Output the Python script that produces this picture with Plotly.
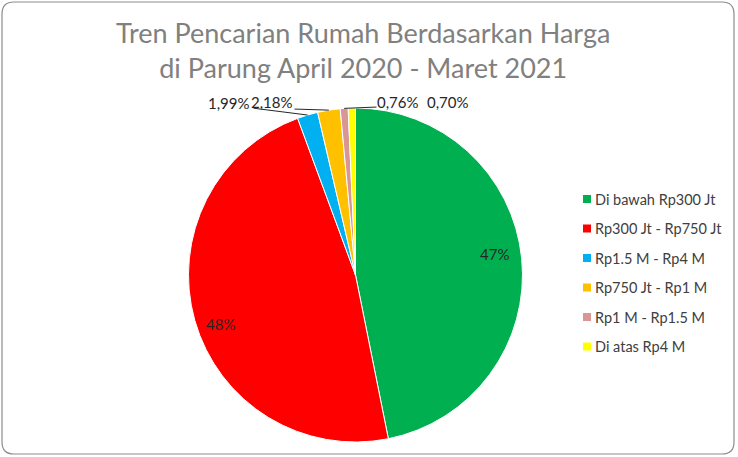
import math
import plotly.graph_objects as go

categories = ["Di bawah Rp300 Jt", "Rp300 Jt - Rp750 Jt", "Rp1.5 M - Rp4 M",
              "Rp750 Jt - Rp1 M", "Rp1 M - Rp1.5 M", "Di atas Rp4 M"]
values = [46.85, 47.52, 1.99, 2.18, 0.76, 0.70]
labels_text = ["47%", "48%", "1,99%", "2,18%", "0,76%", "0,70%"]
colors = ["#00B050", "#FF0000", "#00B0F0", "#FFC000", "#D99694", "#FFFF00"]

W, H = 738, 457
CX, CY, R = 355.5, 275.0, 167.0   # pie centre / radius in pixels
FONT = "Lato, Open Sans, sans-serif"


def px(x):
    return x / W


def py(y):
    return 1 - y / H


total = sum(values)
cum = 0
mids = []
for v in values:
    mids.append((cum + v / 2) / total * 360)
    cum += v

fig = go.Figure(go.Pie(
    labels=categories, values=values, sort=False, direction="clockwise",
    rotation=0, textinfo="none", hoverinfo="label+percent",
    marker=dict(colors=colors, line=dict(color="white", width=1)),
    domain=dict(x=[px(CX - R), px(CX + R)], y=[py(CY + R), py(CY - R)]),
    showlegend=False,
))

annotations = []
shapes = []
font_lbl = dict(family=FONT, size=15, color="#262626")
# inside labels for the big slices
for i, (rr, dang) in zip((0, 1), ((0.84, -3.0), (0.86, -4.0))):
    a = math.radians(mids[i] + dang)
    x = CX + rr * R * math.sin(a)
    y = CY - rr * R * math.cos(a)
    annotations.append(dict(x=px(x), y=py(y), xref="paper", yref="paper",
                            xanchor="center", yanchor="middle",
                            text=labels_text[i], showarrow=False, font=font_lbl))

# outside labels for the small slices: (label centre px, leader start px)
out_pos = {2: (229, 103, 252, 108), 3: (272, 102, 293, 109),
           4: (398, 102, 378, 107), 5: (448, 102, None, None)}
for i, (lx, ly, sx, sy) in out_pos.items():
    annotations.append(dict(x=px(lx), y=py(ly), xref="paper", yref="paper",
                            xanchor="center", yanchor="middle",
                            text=labels_text[i], showarrow=False, font=font_lbl))
    if sx is not None:
        a = math.radians(mids[i])
        ex = CX + R * math.sin(a)
        ey = CY - R * math.cos(a)
        annotations.append(dict(x=px(ex), y=py(ey), xref="paper", yref="paper",
                                ax=sx - ex, ay=sy - ey, axref="pixel", ayref="pixel",
                                text="", showarrow=True, arrowhead=0,
                                arrowwidth=1, arrowcolor="#262626",
                                standoff=0, startstandoff=0))

# legend built from square shapes + annotations
LX, LY0, LDY, SQ = 583, 199, 29.5, 8
for i, (c, col) in enumerate(zip(categories, colors)):
    y = LY0 + i * LDY
    shapes.append(dict(type="rect", xref="paper", yref="paper",
                       x0=px(LX), x1=px(LX + SQ), y0=py(y + SQ / 2), y1=py(y - SQ / 2),
                       fillcolor=col, line=dict(width=0)))
    annotations.append(dict(x=px(LX + SQ + 2), y=py(y), xref="paper", yref="paper",
                            xanchor="left", yanchor="middle", showarrow=False,
                            text=c, font=dict(family=FONT, size=14.5, color="#404040")))

# title
annotations.append(dict(x=px(363), y=py(50), xref="paper", yref="paper",
                        xanchor="center", yanchor="middle", showarrow=False,
                        text="Tren Pencarian Rumah Berdasarkan Harga<br>di Parung April 2020 - Maret 2021",
                        font=dict(family=FONT, size=27, color="#808080")))

# rounded border
r = 12
x0, y0, x1, y1 = 2, 2, W - 4, H - 3
path = (f"M {px(x0 + r)},{py(y0)} L {px(x1 - r)},{py(y0)} "
        f"Q {px(x1)},{py(y0)} {px(x1)},{py(y0 + r)} L {px(x1)},{py(y1 - r)} "
        f"Q {px(x1)},{py(y1)} {px(x1 - r)},{py(y1)} L {px(x0 + r)},{py(y1)} "
        f"Q {px(x0)},{py(y1)} {px(x0)},{py(y1 - r)} L {px(x0)},{py(y0 + r)} "
        f"Q {px(x0)},{py(y0)} {px(x0 + r)},{py(y0)} Z")
shapes.append(dict(type="path", path=path, xref="paper", yref="paper",
                   line=dict(color="#8C8C8C", width=1.2)))

fig.update_layout(
    width=W, height=H, margin=dict(l=0, r=0, t=0, b=0),
    paper_bgcolor="white", plot_bgcolor="white",
    annotations=annotations, shapes=shapes,
)

fig.write_html("out.html", config={"displayModeBar": False},
               post_script="document.body.style.margin='0';document.body.style.overflow='hidden';")
